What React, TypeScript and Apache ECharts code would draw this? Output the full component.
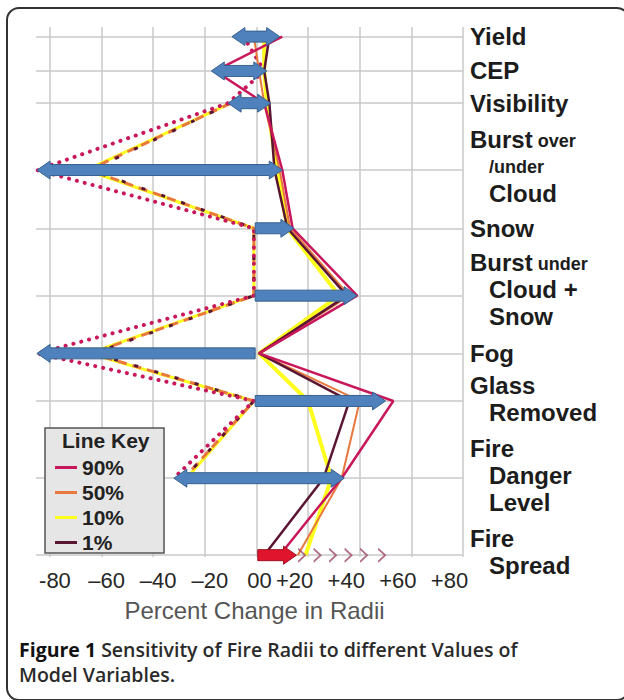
import React, { useEffect, useRef } from "react";
import * as echarts from "echarts";

// ---------- data ----------
const variables = [
  "Yield",
  "CEP",
  "Visibility",
  "Burst over/under Cloud",
  "Snow",
  "Burst under Cloud + Snow",
  "Fog",
  "Glass Removed",
  "Fire Danger Level",
  "Fire Spread",
];
const variableLabels = [
  "{b|Yield}",
  "{b|CEP}",
  "{b|Visibility}",
  "{b|Burst}{s| over}\n{si|/under}\n{i|Cloud}\n{g7| }",
  "{b|Snow}",
  "{b|Burst}{s| under}\n{i|Cloud +}\n{i|Snow}\n{g12| }",
  "{b|Fog}",
  "{b|Glass}\n{i|Removed}\n{g4| }",
  "{b|Fire}\n{i|Danger}\n{i|Level}\n{g6| }",
  "{b|Fire}\n{i|Spread}\n{g7| }",
];
// vertical position of each variable's row (rows are unevenly spaced)
const rowPos = [0.37, 1.69, 2.93, 5.5, 7.74, 10.33, 12.55, 14.38, 17.35, 20.31];

const xTicks = [-80, -60, -40, -20, 0, 20, 40, 60, 80];
const xTickLabels = ["-80", "–60", "–40", "–20", "00", "+20", "+40", "+60", "+80"];

// blue range arrows (percent change), head: 2 = both ends, 1 = at "to" end
const arrowFrom = [-9.5, -17.5, -11, -85, -0.5, -0.5, -0.5, -0.5, -32, 0.5];
const arrowTo = [9, 4, 5.5, 10, 14.5, 39, -85, 50, 34, 15.5];
const arrowHeads = [2, 2, 2, 2, 1, 1, 1, 1, 2, 1];
const arrowRed = [0, 0, 0, 0, 0, 0, 0, 0, 0, 1];

// continuation chevrons on Fire Spread
const chevrons = [17.5, 23.5, 29.5, 35.5, 41.5, 48.5];

// percentile lines
const percentiles = ["90%", "50%", "10%", "1%"];
const high90 = [10, -16, 3, 10, 14, 39, 1, 53, 33, 9];
const high50 = [-1, 1, 3, 9, 13, 36, 1, 40, 33, 16];
const high10 = [3, 3, 4, 8, 12, 32, 1, 20, 29, 19];
const high1 = [5, 3, 5, 7, 12, 35, 1, 36, 26, 3];
const low90 = [-5, 3, -11, -85, -1, -1, -85, -1, -32, null];
const low50 = [null, null, -10, -65, -1, -1, -64, -1, -28, null];
const low10 = [null, null, -10, -66, -1, -1, -65, -1, -27, null];
const low1 = [null, null, -10, -64, -1, -1, -63, -1, -28, null];

const caption = "{b|Figure 1} Sensitivity of Fire Radii to different Values of\nModel Variables.";

// ---------- styles ----------
const C90 = "#c8175a";
const C50 = "#e8783e";
const C10 = "#ffff1e";
const C1 = "#5a1533";
const FONT = "'Liberation Sans', Arial, sans-serif";
const CAPFONT = "'Open Sans', sans-serif";

const toPts = (vals: (number | null)[]) =>
  vals
    .map((v, i) => (v === null ? null : [v, rowPos[i]]))
    .filter((p) => p !== null) as number[][];

export default function App() {
  const ref = useRef<HTMLDivElement>(null);

  useEffect(() => {
    if (!ref.current) return;
    const chart = echarts.init(ref.current, undefined, { renderer: "svg" });

    const lineSeries = (
      name: string,
      vals: (number | null)[],
      color: string,
      width: number,
      type: any = "solid",
      extra: any = {}
    ) => ({
      name,
      type: "line",
      data: toPts(vals),
      symbol: "none",
      silent: true,
      clip: false,
      itemStyle: { color },
      lineStyle: { color, width, type, ...extra },
      z: 2,
    });

    const gap = (h: number) => ({ fontSize: 1, lineHeight: h, color: "rgba(0,0,0,0)" });
    const labelRich = {
      b: { fontSize: 24, fontWeight: "bold", fontFamily: FONT, color: "#1c1c1c", lineHeight: 27 },
      s: { fontSize: 18, fontWeight: "bold", fontFamily: FONT, color: "#1c1c1c", verticalAlign: "bottom", padding: [0, 0, 3, 0] },
      si: { fontSize: 18, fontWeight: "bold", fontFamily: FONT, color: "#1c1c1c", lineHeight: 27, padding: [0, 0, 0, 19] },
      i: { fontSize: 24, fontWeight: "bold", fontFamily: FONT, color: "#1c1c1c", lineHeight: 27, padding: [0, 0, 0, 19] },
      g4: gap(4),
      g6: gap(6),
      g7: gap(7),
      g12: gap(12),
    };

    const option: any = {
      animation: false,
      backgroundColor: "#ffffff",
      grid: { left: 36, right: 161, top: 27, bottom: 143 },
      xAxis: {
        type: "value",
        min: -85.4,
        max: 80,
        axisLine: { show: false },
        axisTick: { show: false, customValues: xTicks },
        splitLine: { show: true, lineStyle: { color: "#c9c9c9", width: 1.5 } },
        axisLabel: {
          customValues: xTicks,
          margin: 12,
          fontSize: 22,
          fontFamily: FONT,
          color: "#262626",
          formatter: (v: number) => {
            let idx = 0;
            xTicks.forEach((t, i) => {
              if (Math.abs(t - v) < Math.abs(xTicks[idx] - v)) idx = i;
            });
            const s = xTickLabels[idx];
            if (xTicks[idx] > 0) return `{p|${s}}`;
            if (xTicks[idx] === 0) return `{z|${s}}`;
            return `{n|${s}}`;
          },
          rich: {
            p: { fontSize: 22, fontFamily: FONT, color: "#262626", padding: [0, 27, 0, 0] },
            n: { fontSize: 22, fontFamily: FONT, color: "#262626", padding: [0, 0, 0, 10] },
            z: { fontSize: 22, fontFamily: FONT, color: "#262626", padding: [0, 0, 0, 6] },
          },
        },
        name: "Percent Change in Radii",
        nameLocation: "middle",
        nameGap: 41,
        nameTextStyle: { fontSize: 24, fontFamily: FONT, color: "#555555", padding: [0, 0, 0, 10] },
      },
      yAxis: {
        type: "value",
        inverse: true,
        min: 0,
        max: 20.38,
        position: "right",
        axisLine: { show: false },
        axisTick: { show: false, customValues: rowPos },
        splitLine: { show: true, lineStyle: { color: "#c9c9c9", width: 1.5 } },
        axisLabel: {
          customValues: rowPos,
          margin: 7,
          align: "left",
          formatter: (v: number) => {
            let idx = 0;
            rowPos.forEach((t, i) => {
              if (Math.abs(t - v) < Math.abs(rowPos[idx] - v)) idx = i;
            });
            return variableLabels[idx];
          },
          rich: labelRich,
        },
      },
      title: {
        text: "Line Key",
        left: 62,
        top: 430,
        padding: 0,
        textStyle: { fontSize: 21, fontWeight: "bold", fontFamily: FONT, color: "#222222" },
        z: 10,
      },
      legend: {
        data: percentiles.map((p, i) => ({ name: p, itemStyle: { color: [C90, C50, C10, C1][i] } })),
        orient: "vertical",
        left: 45,
        top: 428,
        icon: "rect",
        itemWidth: 22,
        itemHeight: 3,
        itemGap: 4,
        padding: [29, 40, 0, 10],
        backgroundColor: "#e6e6e6",
        borderColor: "#555555",
        borderWidth: 1.5,
        selectedMode: false,
        textStyle: { fontSize: 21, fontWeight: "bold", fontFamily: FONT, color: "#222222", lineHeight: 20.5 },
        z: 8,
      },
      graphic: [
        {
          type: "rect",
          shape: { x: 7, y: 8, width: 622, height: 692, r: 12 },
          style: { fill: "none", stroke: "#333333", lineWidth: 2 },
          z: -10,
          silent: true,
        },
        {
          type: "text",
          left: 19,
          top: 637,
          style: {
            text: caption,
            fontFamily: CAPFONT,
            fontSize: 19.5,
            fontWeight: 600,
            fill: "#2a2a2a",
            lineHeight: 25,
            rich: {
              b: { fontFamily: CAPFONT, fontSize: 19.5, fontWeight: "bold", fill: "#111111", lineHeight: 25 },
            },
          },
        },
      ],
      series: [
        // low (negative-side) lines
        lineSeries("10% low", low10, C10, 3),
        lineSeries("50% low", low50, C50, 3, [9, 6]),
        lineSeries("1% low", low1, C1, 3, [4, 17], { dashOffset: 2 }),
        lineSeries("90% low", low90, C90, 4, [0.1, 8], { cap: "round" }),
        // high lines
        lineSeries("10%", high10, C10, 4),
        lineSeries("50%", high50, C50, 2),
        lineSeries("1%", high1, C1, 2.5),
        lineSeries("90%", high90, C90, 2.5),
        {
          name: "arrows",
          type: "custom",
          silent: true,
          z: 5,
          encode: { x: [0, 1], y: 2 },
          data: arrowFrom.map((f, i) => [f, arrowTo[i], rowPos[i], arrowHeads[i], arrowRed[i]]),
          renderItem: (params: any, api: any) => {
            const from = api.value(0);
            const to = api.value(1);
            const y = api.value(2);
            const heads = api.value(3);
            const red = api.value(4);
            const p0 = api.coord([from, y]);
            const p1 = api.coord([to, y]);
            const dir = p1[0] > p0[0] ? 1 : -1;
            const sh = 5.5;
            const hh = 9;
            const hl = 13;
            const xa = p0[0];
            const xb = p1[0];
            const cy = p0[1];
            const pts: number[][] = [];
            if (heads === 2) {
              pts.push([xa, cy], [xa + dir * hl, cy - hh], [xa + dir * hl, cy - sh]);
            } else {
              pts.push([xa, cy - sh]);
            }
            pts.push(
              [xb - dir * hl, cy - sh],
              [xb - dir * hl, cy - hh],
              [xb, cy],
              [xb - dir * hl, cy + hh],
              [xb - dir * hl, cy + sh]
            );
            if (heads === 2) {
              pts.push([xa + dir * hl, cy + sh], [xa + dir * hl, cy + hh]);
            } else {
              pts.push([xa, cy + sh]);
            }
            return {
              type: "polygon",
              shape: { points: pts },
              style: {
                fill: red ? "#e0142d" : "#4f81bd",
                stroke: red ? "#9e1020" : "#38618f",
                lineWidth: 1,
              },
            };
          },
        },
        {
          name: "continues",
          type: "scatter",
          silent: true,
          z: 6,
          symbol: "path://M0,0L8,8L0,16",
          symbolSize: [7, 13],
          data: chevrons.map((v) => [v, rowPos[9]]),
          itemStyle: { color: "rgba(0,0,0,0)", borderColor: "#9c4a68", borderWidth: 1.6 },
        },
      ],
    };

    chart.setOption(option);
    return () => chart.dispose();
  }, []);

  return (
    <div
      ref={ref}
      style={{ position: "fixed", left: 0, top: 0, width: 624, height: 700, background: "#fff" }}
    />
  );
}
